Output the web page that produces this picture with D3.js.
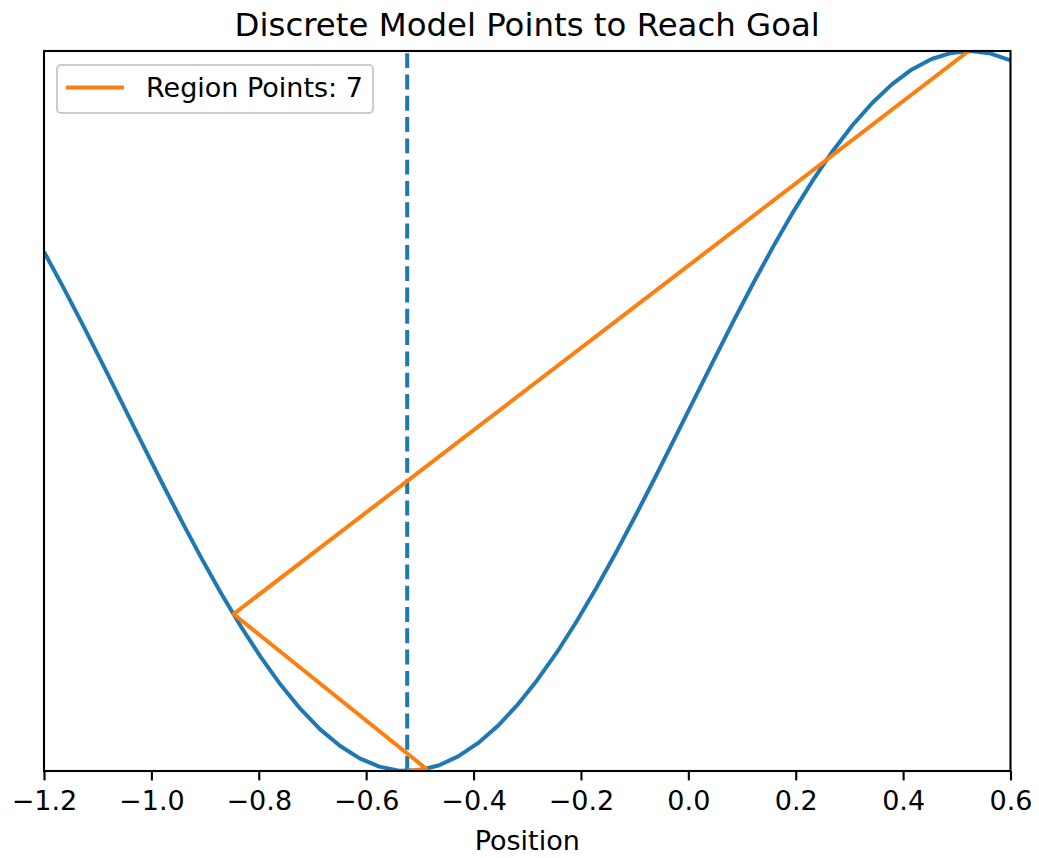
<!DOCTYPE html>
<html>
<head>
<meta charset="utf-8">
<script src="https://cdn.jsdelivr.net/npm/d3@7"></script>
<style>
  html, body { margin: 0; padding: 0; background: #fff; }
  svg { display: block; }
  text { font-family: "DejaVu Sans", sans-serif; fill: #000; }
</style>
</head>
<body>
<svg id="chart" width="1039" height="858"></svg>
<script>
// Mountain-car track height over position
const positions = [
  -1.2, -1.1633, -1.1265, -1.0898, -1.0531, -1.0163, -0.9796, -0.9429, -0.9061, -0.8694,
  -0.8327, -0.7959, -0.7592, -0.7224, -0.6857, -0.6490, -0.6122, -0.5755, -0.5388, -0.5020,
  -0.4653, -0.4286, -0.3918, -0.3551, -0.3184, -0.2816, -0.2449, -0.2082, -0.1714, -0.1347,
  -0.0980, -0.0612, -0.0245, 0.0122, 0.0490, 0.0857, 0.1224, 0.1592, 0.1959, 0.2327,
  0.2694, 0.3061, 0.3429, 0.3796, 0.4163, 0.4531, 0.4898, 0.5265, 0.5633, 0.6
];
const heights = [
  0.4425, 0.3412, 0.2358, 0.1275, 0.0176, -0.0925, -0.2014, -0.3079, -0.4107, -0.5084,
  -0.6000, -0.6845, -0.7607, -0.8277, -0.8843, -0.9300, -0.9649, -0.9878, -0.9990, -0.9980,
  -0.9848, -0.9595, -0.9228, -0.8752, -0.8164, -0.7478, -0.6707, -0.5847, -0.4919, -0.3932,
  -0.2897, -0.1826, -0.0734, 0.0367, 0.1464, 0.2543, 0.3591, 0.4596, 0.5546, 0.6427,
  0.7230, 0.7944, 0.8563, 0.9079, 0.9487, 0.9777, 0.9947, 0.9999, 0.9929, 0.9738
];

// Discrete model region points visited on the way to the goal
const regionX = [-0.5236, -0.488, -0.847, 0.522];
const regionY = [-1.0, -0.994, -0.564, 1.0];
const regionCount = 7;

// Starting position marker
const startX = -0.5236;

const xTicks = [-1.2, -1.0, -0.8, -0.6, -0.4, -0.2, 0.0, 0.2, 0.4, 0.6];

const blue = "#1f77b4", orange = "#ff7f0e";
const W = 1039, H = 858;
const margin = { left: 44, right: W - 1010.5, top: 51, bottom: H - 771 };
const iw = W - margin.left - margin.right;
const ih = H - margin.top - margin.bottom;
const lw = 4;

const svg = d3.select("#chart");
const g = svg.append("g").attr("transform", `translate(${margin.left},${margin.top})`);

const x = d3.scaleLinear().domain([-1.2, 0.6]).range([0, iw]);
const y = d3.scaleLinear().domain([-1, 1]).range([ih, 0]);

g.append("clipPath").attr("id", "plot-clip")
  .append("rect").attr("width", iw).attr("height", ih);

const plot = g.append("g").attr("clip-path", "url(#plot-clip)");

const line = d3.line().x(d => x(d[0])).y(d => y(d[1]));

plot.append("path")
  .datum(positions.map((p, i) => [p, heights[i]]))
  .attr("d", line)
  .attr("fill", "none")
  .attr("stroke", blue)
  .attr("stroke-width", lw)
  .attr("stroke-linejoin", "round");

plot.append("line")
  .attr("x1", x(startX)).attr("x2", x(startX))
  .attr("y1", ih).attr("y2", 0)
  .attr("stroke", blue)
  .attr("stroke-width", lw)
  .attr("stroke-dasharray", "14.9,6.4");

plot.append("path")
  .datum(regionX.map((p, i) => [p, regionY[i]]))
  .attr("d", line)
  .attr("fill", "none")
  .attr("stroke", orange)
  .attr("stroke-width", lw)
  .attr("stroke-linejoin", "round");

// Frame
g.append("rect")
  .attr("width", iw).attr("height", ih)
  .attr("fill", "none").attr("stroke", "#000").attr("stroke-width", 2.1);

// X axis
const fmt = v => (v < 0 ? "\u2212" : "") + Math.abs(v).toFixed(1);
const xAxis = g.append("g")
  .attr("transform", `translate(0,${ih})`)
  .call(d3.axisBottom(x).tickValues(xTicks).tickFormat(fmt).tickSize(9.4).tickPadding(10));
xAxis.select(".domain").remove();
xAxis.selectAll(".tick line").attr("stroke", "#000").attr("stroke-width", 2.1);
xAxis.selectAll(".tick text")
  .style("font-family", "'DejaVu Sans', sans-serif")
  .style("font-size", "27px")
  .attr("fill", "#000");

// Axis label
svg.append("text")
  .attr("x", margin.left + iw / 2).attr("y", 850)
  .attr("text-anchor", "middle")
  .style("font-size", "27px")
  .text("Position");

// Title
svg.append("text")
  .attr("x", margin.left + iw / 2).attr("y", 36)
  .attr("text-anchor", "middle")
  .style("font-size", "32.4px")
  .text("Discrete Model Points to Reach Goal");

// Legend
const lg = svg.append("g").attr("transform", "translate(57,65)");
lg.append("rect")
  .attr("width", 316).attr("height", 48)
  .attr("rx", 4).attr("ry", 4)
  .attr("fill", "#fff").attr("fill-opacity", 0.8)
  .attr("stroke", "#cccccc").attr("stroke-width", 2.1);
lg.append("line")
  .attr("x1", 9).attr("x2", 67).attr("y1", 22.5).attr("y2", 22.5)
  .attr("stroke", orange).attr("stroke-width", lw);
lg.append("text")
  .attr("x", 89).attr("y", 31.5)
  .style("font-size", "27px")
  .text(`Region Points: ${regionCount}`);
</script>
</body>
</html>
